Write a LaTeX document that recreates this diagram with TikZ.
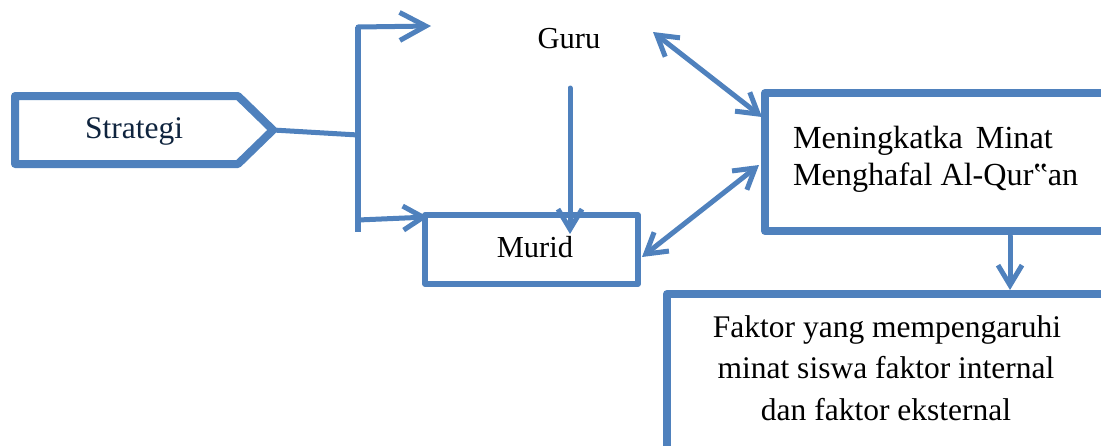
\documentclass[tikz,border=0pt]{standalone}
\usepackage{fontspec}
\setmainfont{Liberation Serif}
\usetikzlibrary{arrows.meta}
\definecolor{lineblue}{RGB}{79,129,189}
\definecolor{navytext}{RGB}{15,36,62}
\begin{document}
\begin{tikzpicture}[x=1pt,y=-1pt,
  thickbox/.style={draw=lineblue,line width=8pt,line join=round,rectangle,inner sep=0pt,outer sep=0pt,fill=white},
  thinbox/.style={draw=lineblue,line width=5.5pt,line join=round,rectangle,inner sep=0pt,outer sep=0pt,fill=white},
  conn/.style={draw=lineblue,line width=5pt,line cap=round},
  arrowtip/.style={-{Straight Barb[length=20pt,width=24pt]}},
  bigtip/.style={-{Straight Barb[length=26pt,width=28pt]}},
  bothtip/.style={{Straight Barb[length=20pt,width=24pt]}-{Straight Barb[length=20pt,width=24pt]}},
  lbl/.style={font=\fontsize{31.5}{37}\selectfont,inner sep=0pt,outer sep=0pt},
  lblsm/.style={font=\fontsize{30.5}{37}\selectfont,inner sep=0pt,outer sep=0pt},
  lblbig/.style={font=\fontsize{32.2}{37}\selectfont,inner sep=0pt,outer sep=0pt}
]
\useasboundingbox (0,0) rectangle (1101,445);
\clip (0,0) rectangle (1101,445);

% boxes
\node[thickbox,minimum width=420pt,minimum height=138pt,anchor=north west] (goal) at (765,93) {};
\node[thickbox,minimum width=460pt,minimum height=220pt,anchor=north west] (faktor) at (667,294) {};
\node[thinbox,minimum width=213pt,minimum height=69pt,anchor=north west] (murid) at (425,215) {};

% Strategi pentagon
\draw[draw=lineblue,line width=8pt,line join=round,fill=white] (15,96) -- (238,96) -- (273,130) -- (238,164) -- (15,164) -- cycle;
\coordinate (stip) at (273,130);

% texts
\node[lbl,anchor=base,text=navytext] (strategi) at (134,138) {Strategi};
\node[lblsm,anchor=base] (guru) at (569,48) {Guru};
\node[lblsm,anchor=base] (muridtxt) at (535,257) {Murid};
\node[lblbig,anchor=base west] (goal1) at (793,148) {Meningkatka\hspace{13pt}Minat};
\node[lblbig,anchor=base west] (goal2) at (793,185) {Menghafal Al-Qur‟an};
\node[lbl,anchor=base] (f1) at (887,337) {Faktor yang mempengaruhi};
\node[lbl,anchor=base] (f2) at (886,378) {minat siswa faktor internal};
\node[lbl,anchor=base] (f3) at (886,420) {dan faktor eksternal};

% junction coordinates
\coordinate (jtop) at (358,27);
\coordinate (jend) at (358,232);
\coordinate (jmid) at (358,135);
\coordinate (jlow) at (358,220);
\coordinate (guruin) at (431,26);
\coordinate (murin) at (428,217);
\coordinate (gdown) at (570,88);
\coordinate (gdownend) at (570,234);
\coordinate (gA0) at (653,32);
\coordinate (gA1) at (762,117);
\coordinate (gB0) at (642,257);
\coordinate (gB1) at (759,165);
\coordinate (d0) at (1010,236);
\coordinate (d1) at (1010,290);

% connectors
\draw[conn] (stip) -- (jmid);
\draw[conn,line width=5.5pt,line cap=butt] (jtop) -- (jend);
\draw[conn,bigtip] (jtop) -- (guruin);
\draw[conn,arrowtip] (jlow) -- (murin);
\draw[conn,arrowtip] (gdown) -- (gdownend);
\draw[conn,bothtip] (gA0) -- (gA1);
\draw[conn,bothtip] (gB0) -- (gB1);
\draw[conn,arrowtip] (d0) -- (d1);
\end{tikzpicture}
\end{document}
